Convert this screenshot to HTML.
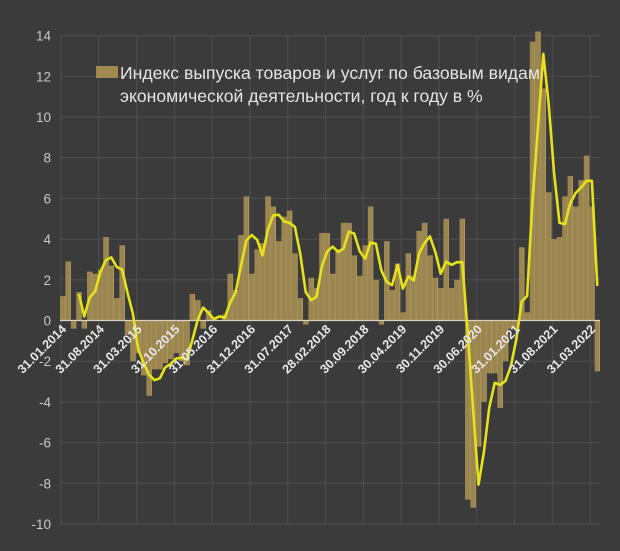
<!DOCTYPE html>
<html><head><meta charset="utf-8"><style>
html,body{margin:0;padding:0;background:#3b3b3b;}
svg{display:block;}
</style></head><body>
<svg id="c" width="620" height="551" xmlns="http://www.w3.org/2000/svg">
<rect width="620" height="551" fill="#3b3b3b"/>
<g id="grid"></g>
<g id="bars"></g>
<line x1="60" y1="320.5" x2="600" y2="320.5" stroke="#d9d2c0" stroke-width="1.2"/>
<polyline id="ln" fill="none" stroke="#e6e21a" stroke-width="2.6" stroke-linejoin="round"/>
<g id="yl" font-family="Liberation Sans, sans-serif" font-size="13.5" fill="#c8c8c8" text-anchor="end"></g>
<g id="xl" font-family="Liberation Sans, sans-serif" font-size="12.5" font-weight="bold" fill="#e8e8e8" text-anchor="end"></g>
<rect x="96" y="66" width="22" height="12" fill="#a08a50"/>
<text x="120" y="79" font-family="Liberation Sans, 'DejaVu Sans', sans-serif" font-size="17.6" fill="#e4e4e4">Индекс выпуска товаров и услуг по базовым видам</text>
<text x="120" y="102" font-family="Liberation Sans, 'DejaVu Sans', sans-serif" font-size="17.6" fill="#e4e4e4">экономической деятельности, год к году в %</text>
</svg>
<script>
var d=[1.2,2.9,-0.4,1.4,-0.4,2.4,2.3,2.5,4.1,2.7,1.1,3.7,
-0.7,-2.0,-1.6,-2.7,-3.7,-2.4,-2.4,-2.1,-1.9,-1.6,-2.0,-2.2,
1.3,1.0,-0.4,0.5,0.1,0,0.3,2.3,1.5,4.2,6.1,2.3,
3.5,3.8,6.1,5.6,3.9,5.1,5.4,3.3,1.1,-0.2,2.1,1.6,
4.3,4.3,2.3,3.5,4.8,4.8,3.2,2.2,3.7,5.6,2.0,-0.2,
3.9,1.5,2.8,0.4,3.3,2.2,4.4,4.8,3.2,2.1,1.6,5.0,
1.6,2.0,5.0,-8.8,-9.2,-6.2,-4.0,-2.6,-2.6,-4.3,-2.0,-0.4,
-0.4,3.6,0.4,13.7,14.2,11.4,6.3,4.0,4.1,6.1,7.1,5.6,
6.9,8.1,5.6,-2.5];
var X0=60,W=5.4,Y0=320.5,S=20.35,ns="http://www.w3.org/2000/svg";
function el(t,a,p){var e=document.createElementNS(ns,t);for(var k in a)e.setAttribute(k,a[k]);document.getElementById(p).appendChild(e);return e;}
for(var v=-10;v<=14;v+=2){var y=Y0-v*S;el('line',{x1:60,x2:600,y1:y,y2:y,stroke:'#4f4f4f','stroke-width':1},'grid');var t=el('text',{x:51,y:y+5},'yl');t.textContent=v;}
var labs=['31.01.2014','31.08.2014','31.03.2015','31.10.2015','31.05.2016','31.12.2016','31.07.2017','28.02.2018','30.09.2018','30.04.2019','30.11.2019','30.06.2020','31.01.2021','31.08.2021','31.03.2022'];
for(var i=0;i<labs.length;i++){var x=X0+i*7*W+1;el('line',{x1:x,x2:x,y1:35,y2:525,stroke:'#4f4f4f','stroke-width':1},'grid');var t=el('text',{x:x+6,y:330,transform:'rotate(-45 '+(x+6)+' 330)'},'xl');t.textContent=labs[i];}
for(var i=0;i<d.length;i++){var x=X0+i*W,v=d[i],y=v>=0?Y0-v*S:Y0;el('rect',{x:x,y:y,width:W,height:Math.abs(v)*S,fill:'#9c8650'},'bars');el('line',{x1:x+W-0.3,x2:x+W-0.3,y1:y,y2:y+Math.abs(v)*S,stroke:'#b8a46e','stroke-width':0.6},'bars');}
var pts=[];for(var i=3;i<d.length;i++){var a=(d[i]+d[i-1]+d[i-2])/3;if(i==d.length-1)a=1.7;pts.push((X0+i*W+W/2).toFixed(1)+','+(Y0-a*S).toFixed(1));}
document.getElementById('ln').setAttribute('points',pts.join(' '));
</script>
</body></html>
